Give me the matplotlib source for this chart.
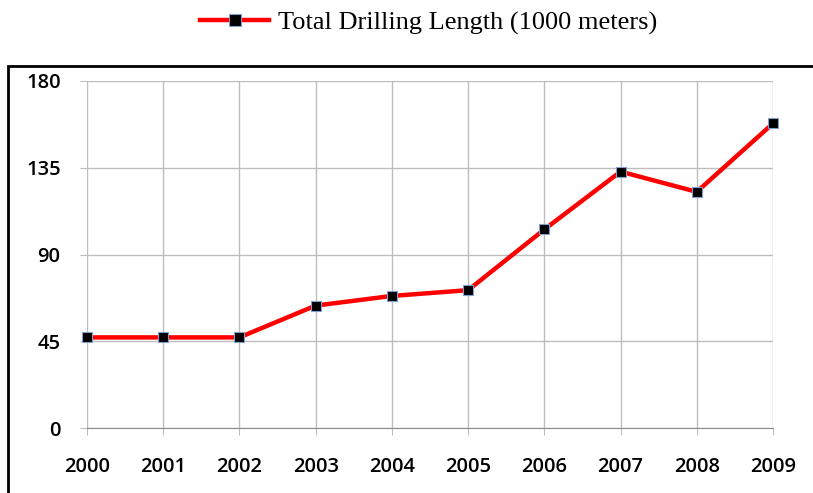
import matplotlib.pyplot as plt
from matplotlib.patches import Rectangle

years = [2000, 2001, 2002, 2003, 2004, 2005, 2006, 2007, 2008, 2009]
drilling = [47, 47, 47, 63.5, 68.5, 71.5, 103, 133, 122.5, 158]
yticks = [0, 45, 90, 135, 180]
label = 'Total Drilling Length (1000 meters)'

fig = plt.figure(figsize=(8.13, 4.93), dpi=100)
ax = fig.add_axes([87/813, 1 - 428/493, (773 - 87)/813, (428 - 81)/493])

ax.plot(years, drilling, color='red', lw=3.2, marker='s', markersize=7,
        markerfacecolor='black', markeredgecolor='#7f9fcf', markeredgewidth=0.8,
        clip_on=False, zorder=3, label=label)

ax.set_xlim(2000, 2009)
ax.set_ylim(0, 180)
ax.set_xticks(years)
ax.set_yticks(yticks)
ax.grid(True, color='#bdbdbd', lw=1)
ax.set_axisbelow(True)
for s in ['top', 'right', 'left']:
    ax.spines[s].set_visible(False)
ax.spines['bottom'].set_color('#8c8c8c')
ax.tick_params(axis='x', length=5, color='#bdbdbd', pad=16)
ax.tick_params(axis='y', length=5, color='#bdbdbd', pad=14)
for t in ax.get_xticklabels() + ax.get_yticklabels():
    t.set_fontfamily('Open Sans')
    t.set_fontsize(14.5)
    t.set_fontweight('semibold')

# outer frame (left and top edges visible)
fig.patches.append(Rectangle((8/813, -0.05), 1.1, 1 - 66/493 + 0.05,
                             transform=fig.transFigure, fill=False,
                             edgecolor='black', lw=2))

leg = fig.legend(loc='center', bbox_to_anchor=(429/813, 1 - 23/493), frameon=False,
                 prop={'family': 'Liberation Serif', 'size': 19}, handlelength=2.6,
                 handletextpad=0.35)
for h in leg.legend_handles:
    h.set_markersize(8)

fig.savefig('out.png', dpi=100)
